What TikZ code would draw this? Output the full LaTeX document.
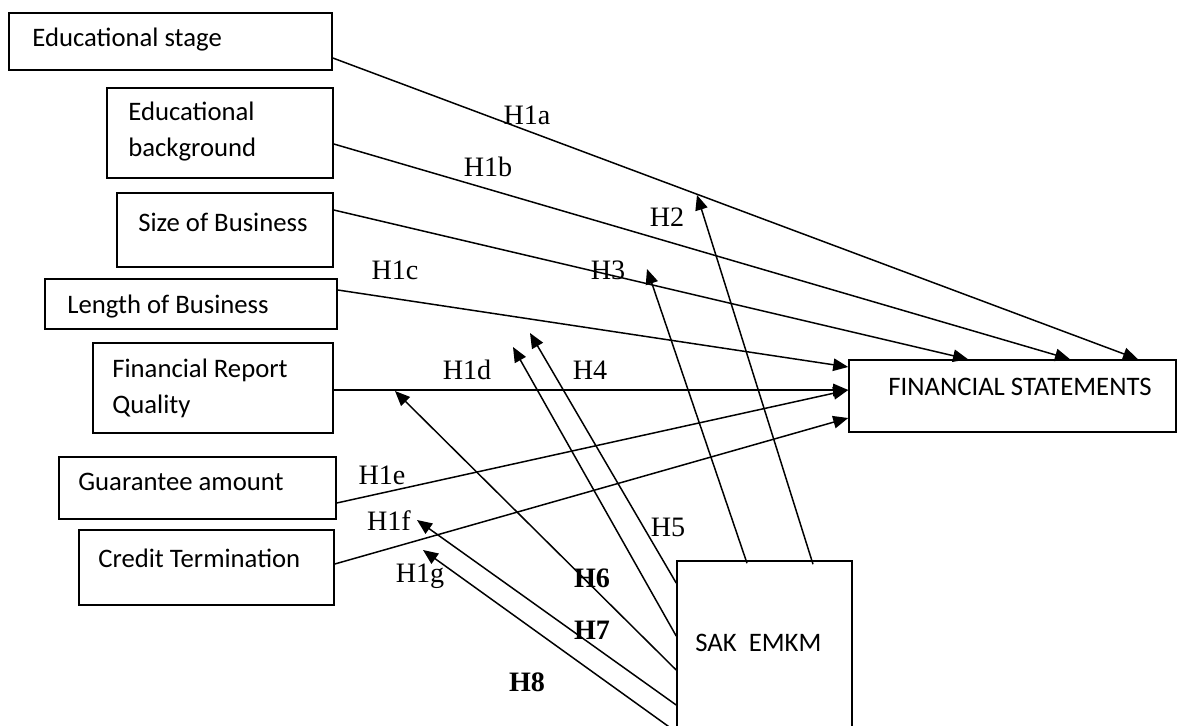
\documentclass[tikz,border=0pt]{standalone}
\usepackage{fontspec}
\setmainfont{Liberation Serif}
\newfontfamily\boxfont{Carlito}
\usepackage{tikz}
\usetikzlibrary{arrows.meta, positioning, fit}

\begin{document}
\begin{tikzpicture}[x=0.02cm, y=-0.02cm,
  varbox/.style={draw, line width=0.9pt, inner sep=0pt},
  vartext/.style={anchor=west, inner sep=0pt, align=left, font=\boxfont\fontsize{15.2}{20.5}\selectfont},
  hyp/.style={inner sep=0pt, font=\fontsize{16}{16}\selectfont},
  hypb/.style={hyp, font=\bfseries\fontsize{16}{16}\selectfont},
  path/.style={line width=0.85pt, -{Triangle[length=3mm, width=2.5mm]}}]
  \clip (0,0) rectangle (1177,726);
  \fill[white] (0,0) rectangle (1177,726);

  % Independent variables
  \node[varbox, fit={(9,13) (332,70)}] (stage) {};
  \node[vartext] (stage-t) at (32,40) {Educational stage};
  \node[varbox, fit={(107,88) (333,178)}] (backgr) {};
  \node[vartext] (backgr-t) at (128,132) {Educational\\background};
  \node[varbox, fit={(117,193) (333,267)}] (size) {};
  \node[vartext] (size-t) at (138,222) {Size of Business};
  \node[varbox, fit={(45,279) (337,329)}] (length) {};
  \node[vartext] (length-t) at (67,307) {Length of Business};
  \node[varbox, fit={(93,343) (333,433)}] (frq) {};
  \node[vartext] (frq-t) at (112,388) {Financial Report\\Quality};
  \node[varbox, fit={(59,457) (336,519)}] (guar) {};
  \node[vartext] (guar-t) at (78,482) {Guarantee amount};
  \node[varbox, fit={(79,530) (334,605)}] (credit) {};
  \node[vartext] (credit-t) at (98,558) {Credit Termination};

  % Dependent variable and moderator
  \node[varbox, fit={(849,360) (1176,432)}] (fs) {};
  \node[vartext] (fs-t) at (888,387) {FINANCIAL STATEMENTS};
  \node[varbox, fit={(677,561) (852,760)}] (sak) {};
  \node[vartext] (sak-t) at (695,643) {SAK\ \ EMKM};

  % Arrow ends on the direct paths
  \coordinate (tip2) at (697,195);
  \coordinate (tip3) at (647,269);
  \coordinate (tip4a) at (530,333);
  \coordinate (tip4b) at (513,347);
  \coordinate (tip6) at (395,391);
  \coordinate (tip7) at (417,520);
  \coordinate (tip8) at (423,550);

  % Direct effects
  \draw[path] (stage.east |- 0,58) -- (fs.north -| 1138,0);
  \draw[path] (backgr.east |- 0,144) -- (fs.north -| 1070,0);
  \draw[path] (size.east |- 0,210) -- (fs.north -| 968,0);
  \draw[path] (length.east |- 0,290) -- (fs.west |- 0,367);
  \draw[path] (frq.east |- 0,390) -- (fs.west |- 0,390);
  \draw[path] (guar.east |- 0,503) -- (fs.west |- 0,390);
  \draw[path] (credit.east |- 0,564) -- (fs.west |- 0,418);

  % Moderating effects
  \draw[path] (sak.north -| 813,0) ++(0,4) -- (tip2);
  \draw[path] (sak.north -| 747,0) ++(0,3) -- (tip3);
  \draw[path] (sak.west |- 0,583) -- (tip4a);
  \draw[path] (sak.west |- 0,636) -- (tip4b);
  \draw[path] (sak.west |- 0,670) -- (tip6);
  \draw[path] (sak.west |- 0,705) -- (tip7);
  \draw[path] (sak.west |- 0,732) -- (tip8);

  % Hypothesis labels
  \node[hyp] (h1a) at (527,115) {H1a};
  \node[hyp] (h1b) at (488,167) {H1b};
  \node[hyp] (h2) at (667,217) {H2};
  \node[hyp] (h1c) at (395,270) {H1c};
  \node[hyp] (h3) at (608,270) {H3};
  \node[hyp] (h1d) at (467,370) {H1d};
  \node[hyp] (h4) at (590,370) {H4};
  \node[hyp] (h1e) at (382,475) {H1e};
  \node[hyp] (h1f) at (389,521) {H1f};
  \node[hyp] (h5) at (668,527) {H5};
  \node[hyp] (h1g) at (420,576) {H1g};
  \node[hypb] (h6) at (592,578) {H6};
  \node[hypb] (h7) at (592,630) {H7};
  \node[hypb] (h8) at (527,682) {H8};
\end{tikzpicture}
\end{document}
